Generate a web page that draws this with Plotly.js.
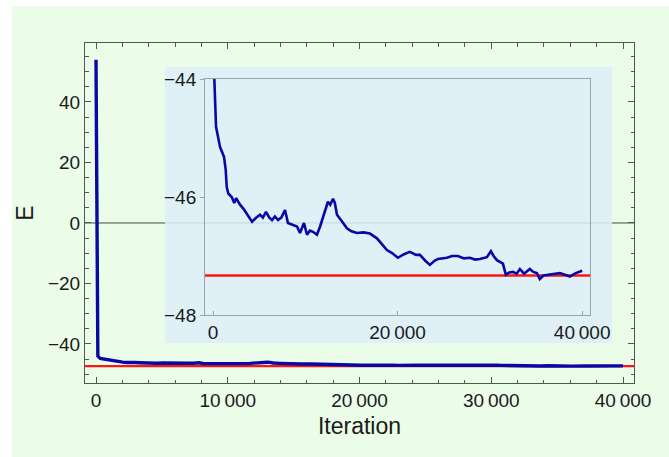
<!DOCTYPE html>
<html>
<head>
<meta charset="utf-8">
<script src="https://cdn.plot.ly/plotly-3.0.1.min.js"></script>
<style>
  html, body { margin: 0; padding: 0; background: #ffffff; }
  #chart { position: absolute; left: 12px; top: 6px; width: 657px; height: 451px; }
</style>
</head>
<body>
<div id="chart"></div>
<script>
// Energy per iteration of the optimisation run
const iterations = [
  0, 50, 90, 140, 324, 757, 1189, 1373, 1481, 1654, 2022, 2300, 2500, 2925,
  3300, 3700, 4225, 4600, 5090, 5400, 5740, 6100, 6390, 6700, 7040, 7400,
  7800, 8120, 8600, 9100, 9420, 9855, 10180, 10500, 10830, 11260, 11600,
  11910, 12200, 12450, 12700, 13000, 13200, 13430, 14000, 14510, 15000,
  15600, 16300, 17000, 17760, 18300, 18840, 19400, 20030, 20700, 21330,
  22000, 22420, 23000, 23500, 24000, 24370, 25340, 25900, 26530, 27200,
  27830, 28400, 28920, 29670, 30110, 30400, 30760, 31100, 31410, 31730,
  32100, 32490, 32900, 33250, 33700, 34330, 34700, 35090, 35410, 35800,
  36170, 37000, 37580, 38200, 38660, 39300, 40000
];
const energy = [
  54.0, 0.0, -38.0, -44.0, -44.81, -45.15, -45.32, -45.54, -45.83, -45.94, -46.0, -46.1, -46.02, -46.13,
  -46.2, -46.3, -46.42, -46.36, -46.3, -46.35, -46.25, -46.35, -46.39, -46.33, -46.39, -46.35,
  -46.22, -46.44, -46.47, -46.5, -46.61, -46.44, -46.64, -46.57, -46.59, -46.64, -46.5,
  -46.34, -46.2, -46.08, -46.13, -46.03, -46.1, -46.3, -46.42, -46.53, -46.58,
  -46.61, -46.6, -46.62, -46.7, -46.8, -46.9, -46.95, -47.03, -46.97, -46.93,
  -46.98, -46.98, -47.08, -47.15, -47.08, -47.05, -47.03, -47.0, -47.0, -47.04,
  -47.03, -47.06, -47.05, -47.02, -46.92, -47.0, -47.07, -47.1, -47.13, -47.32,
  -47.28, -47.27, -47.3, -47.22, -47.3, -47.22, -47.27, -47.29, -47.39, -47.33,
  -47.32, -47.3, -47.29, -47.32, -47.35, -47.29, -47.25
];
// Exact ground-state energy (reference level)
const groundEnergy = [-47.33];

const mainXTicks = [0, 10000, 20000, 30000, 40000];
const mainXLabels = ['0', '10\u2009000', '20\u2009000', '30\u2009000', '40\u2009000'];
const mainYTicks = [-40, -20, 0, 20, 40];
const mainYLabels = ['\u221240', '\u221220', '0', '20', '40'];
const insetXTicks = [0, 20000, 40000];
const insetXLabels = ['0', '20\u2009000', '40\u2009000'];
const insetYTicks = [-48, -46, -44];
const insetYLabels = ['\u221248', '\u221246', '\u221244'];

const frameColor = '#555555';
const insetFrame = '#9aa3a8';
const curveBlue = 'rgb(8,8,165)';
const refRed = 'rgb(255,20,20)';

const traces = [
  { x: iterations, y: energy, xaxis: 'x', yaxis: 'y', mode: 'lines',
    line: { color: curveBlue, width: 3.4 }, hoverinfo: 'skip' },
  { x: iterations, y: energy, xaxis: 'x2', yaxis: 'y2', mode: 'lines',
    line: { color: curveBlue, width: 2.6 }, hoverinfo: 'skip' }
];

// inset panel placement (paper fractions)
const insetBox = { x0: 0.1457, x1: 0.96, y0: 0.1176, y1: 0.9294 };

const layout = {
  width: 657, height: 451,
  paper_bgcolor: 'rgb(235,253,233)',
  plot_bgcolor: 'rgba(0,0,0,0)',
  margin: { l: 73, r: 35, t: 37, b: 74 },
  showlegend: false,
  font: { family: '"Liberation Sans", Arial, sans-serif', size: 19, color: '#1a1a1a' },
  xaxis: {
    range: [-835, 40835], tickmode: 'array', tickvals: mainXTicks, ticktext: mainXLabels,
    ticks: 'inside', ticklen: 6, tickwidth: 1, tickcolor: frameColor,
    showline: true, linecolor: frameColor, linewidth: 1, mirror: 'allticks',
    showgrid: false, zeroline: false,
    minor: { dtick: 2000, tick0: 0, ticks: 'inside', ticklen: 3.5, tickcolor: frameColor, showgrid: false },
    title: { text: 'Iteration', standoff: 8 }
  },
  yaxis: {
    range: [-52.9, 59.5], tickmode: 'array', tickvals: mainYTicks, ticktext: mainYLabels,
    ticks: 'inside', ticklen: 6, tickwidth: 1, tickcolor: frameColor,
    showline: true, linecolor: frameColor, linewidth: 1, mirror: 'allticks',
    showgrid: false, zeroline: false,
    minor: { dtick: 5, tick0: 0, ticks: 'inside', ticklen: 3.5, tickcolor: frameColor, showgrid: false },
    title: { text: 'E', standoff: 10 }
  },
  xaxis2: {
    domain: [0.2186, 0.9199], anchor: 'y2',
    range: [-870, 40850], tickmode: 'array', tickvals: insetXTicks, ticktext: insetXLabels,
    ticks: 'inside', ticklen: 4, tickcolor: insetFrame,
    showline: true, linecolor: insetFrame, linewidth: 1, mirror: true,
    showgrid: false, zeroline: false
  },
  yaxis2: {
    domain: [0.2, 0.894], anchor: 'x2',
    range: [-48, -44], tickmode: 'array', tickvals: insetYTicks, ticktext: insetYLabels,
    ticks: 'outside', ticklen: 4, tickcolor: insetFrame,
    showline: true, linecolor: insetFrame, linewidth: 1, mirror: true,
    showgrid: false, zeroline: false
  },
  shapes: [
    // E = 0 line across the main frame
    { type: 'line', layer: 'below', xref: 'paper', yref: 'y', x0: 0, x1: 1, y0: 0, y1: 0,
      line: { color: '#444444', width: 1 } },
    // inset panel background
    { type: 'rect', layer: 'below', xref: 'paper', yref: 'paper',
      x0: insetBox.x0, x1: insetBox.x1, y0: insetBox.y0, y1: insetBox.y1,
      fillcolor: 'rgb(223,240,246)', line: { width: 0 } },
    // E = 0 line seen through the inset panel
    { type: 'line', layer: 'below', xref: 'paper', yref: 'y', x0: insetBox.x0, x1: insetBox.x1, y0: 0, y1: 0,
      line: { color: 'rgb(200,214,222)', width: 1 } },
    // reference energy, main and inset
    { type: 'line', layer: 'below', xref: 'x domain', yref: 'y', x0: 0, x1: 1,
      y0: groundEnergy[0], y1: groundEnergy[0], line: { color: refRed, width: 2.2 } },
    { type: 'line', layer: 'below', xref: 'x2 domain', yref: 'y2', x0: 0, x1: 1,
      y0: groundEnergy[0], y1: groundEnergy[0], line: { color: refRed, width: 2.4 } }
  ]
};

Plotly.newPlot('chart', traces, layout, { staticPlot: true, displayModeBar: false });
</script>
</body>
</html>
